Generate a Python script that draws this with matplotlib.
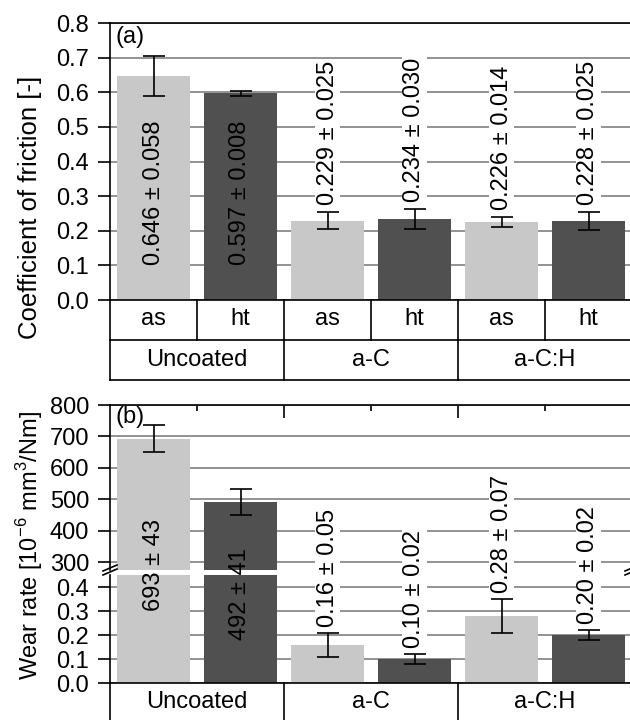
import matplotlib.pyplot as plt
from matplotlib.lines import Line2D
from matplotlib.ticker import FormatStrFormatter
from matplotlib.transforms import blended_transform_factory

plt.rcParams['font.family'] = ['Liberation Sans', 'DejaVu Sans']
plt.rcParams['mathtext.fontset'] = 'custom'
plt.rcParams['mathtext.rm'] = 'Liberation Sans'
plt.rcParams['font.size'] = 17

# data
coatings = ['Uncoated', 'a-C', 'a-C:H']
states = ['as', 'ht', 'as', 'ht', 'as', 'ht']
cof_mean = [0.646, 0.597, 0.229, 0.234, 0.226, 0.228]
cof_err = [0.058, 0.008, 0.025, 0.030, 0.014, 0.025]
cof_text = ['0.646 ± 0.058', '0.597 ± 0.008', '0.229 ± 0.025',
            '0.234 ± 0.030', '0.226 ± 0.014', '0.228 ± 0.025']
wear_mean = [693, 492, 0.16, 0.10, 0.28, 0.20]
wear_err = [43, 41, 0.05, 0.02, 0.07, 0.02]
wear_text = ['693 ± 43', '492 ± 41', '0.16 ± 0.05',
             '0.10 ± 0.02', '0.28 ± 0.07', '0.20 ± 0.02']

light = '#c8c8c8'
dark = '#505050'
colors = [light, dark] * 3
grid_c = '#808080'
lw = 1.2

W, H = 630, 720
fig = plt.figure(figsize=(W / 100, H / 100), dpi=100)


def box(l, t, r, b):
    return [l / W, 1 - b / H, (r - l) / W, (b - t) / H]


x = list(range(len(states)))


def style(ax):
    for s in ax.spines.values():
        s.set_linewidth(lw)
    ax.set_xlim(-0.5, 5.5)
    ax.yaxis.grid(True, color=grid_c, lw=lw)
    ax.set_axisbelow(True)
    ax.tick_params(axis='y', direction='out', length=9, width=lw, pad=6)
    ax.tick_params(axis='x', bottom=False, labelbottom=False)


def fig_line(ax, xs, ys):
    tr = blended_transform_factory(ax.transData, fig.transFigure)
    fig.add_artist(Line2D(xs, [1 - y / H for y in ys], transform=tr,
                          color='k', lw=lw, clip_on=False))


def fig_label(ax, xv, y, s):
    tr = blended_transform_factory(ax.transData, fig.transFigure)
    ax.text(xv, 1 - y / H, s, transform=tr, ha='center', va='center')


# (a) coefficient of friction
ax1 = fig.add_axes(box(110, 23, 632, 300))
style(ax1)
ax1.bar(x, cof_mean, width=0.83, color=colors, zorder=2)
ax1.errorbar(x, cof_mean, yerr=cof_err, fmt='none', ecolor='k',
             elinewidth=lw, capsize=8, capthick=lw, zorder=3)
ax1.set_ylim(0, 0.8)
ax1.set_yticks([0.0, 0.1, 0.2, 0.3, 0.4, 0.5, 0.6, 0.7, 0.8])
ax1.yaxis.set_major_formatter(FormatStrFormatter('%.1f'))
ax1.set_xticks([])
for i in x:
    if cof_mean[i] > 0.5:
        ax1.text(i, 0.1, cof_text[i], rotation=90, ha='center', va='bottom', zorder=4)
    else:
        ax1.text(i, cof_mean[i] + cof_err[i] + 0.02, cof_text[i], rotation=90,
                 ha='center', va='bottom', zorder=4,
                 bbox=dict(facecolor='white', edgecolor='none', pad=1))
ax1.text(0.01, 0.99, '(a)', transform=ax1.transAxes, ha='left', va='top')

# table under (a)
for xb in [-0.5, 0.5, 1.5, 2.5, 3.5, 4.5, 5.5]:
    fig_line(ax1, [xb, xb], [300, 340])
for xb in [-0.5, 1.5, 3.5, 5.5]:
    fig_line(ax1, [xb, xb], [340, 380])
fig_line(ax1, [-0.5, 5.5], [340, 340])
fig_line(ax1, [-0.5, 5.5], [380, 380])
for i in x:
    fig_label(ax1, i, 319, states[i])
for j, c in enumerate(coatings):
    fig_label(ax1, 2 * j + 0.5, 360, c)

# (b) wear rate, broken axis
ax2 = fig.add_axes(box(110, 405, 632, 570))
ax3 = fig.add_axes(box(110, 575, 632, 683))
for ax in (ax2, ax3):
    style(ax)
    ax.bar(x, wear_mean, width=0.83, color=colors, zorder=2)
    ax.errorbar(x, wear_mean, yerr=wear_err, fmt='none', ecolor='k',
                elinewidth=lw, capsize=8, capthick=lw, zorder=3)
ax2.set_ylim(275, 800)
ax2.set_yticks([300, 400, 500, 600, 700, 800])
ax2.spines['bottom'].set_visible(False)
ax2.xaxis.tick_top()
ax2.set_xticks([1.5, 3.5])
ax2.set_xticks([0.5, 2.5, 4.5], minor=True)
ax2.tick_params(axis='x', which='major', direction='in', length=9, width=lw,
                labeltop=False, top=True)
ax2.tick_params(axis='x', which='minor', direction='in', length=4, width=lw,
                labeltop=False, top=True)
ax2.text(0.01, 0.995, '(b)', transform=ax2.transAxes, ha='left', va='top')

ax3.set_ylim(0, 0.45)
ax3.set_yticks([0.0, 0.1, 0.2, 0.3, 0.4])
ax3.yaxis.set_major_formatter(FormatStrFormatter('%.1f'))
ax3.spines['top'].set_visible(False)
ax3.set_xticks([])

big_y = [0.30, 0.18]
for i in x:
    if i < 2:
        ax3.text(i, big_y[i], wear_text[i], rotation=90, ha='center',
                 va='bottom', zorder=4)
    else:
        ax3.text(i, wear_mean[i] + wear_err[i] + 0.025, wear_text[i], rotation=90,
                 ha='center', va='bottom', zorder=4,
                 bbox=dict(facecolor='white', edgecolor='none', pad=1))

# break marks
for px in (110, 632):
    for dy in (0, 4):
        fig.add_artist(Line2D([(px - 7) / W, (px + 7) / W],
                              [1 - (571 + dy) / H, 1 - (565 + dy) / H],
                              transform=fig.transFigure, color='k', lw=lw))

# table under (b)
for xb in [-0.5, 1.5, 3.5, 5.5]:
    fig_line(ax3, [xb, xb], [683, 722])
for j, c in enumerate(coatings):
    fig_label(ax3, 2 * j + 0.5, 702, c)

fig.text(30 / W, 1 - 207 / H, 'Coefficient of friction [-]', rotation=90,
         ha='center', va='center', fontsize=18.5)
fig.text(30 / W, 1 - 545 / H, 'Wear rate [10$^{-6}$ mm$^3$/Nm]', rotation=90,
         ha='center', va='center')

fig.savefig('out.png', dpi=100)
